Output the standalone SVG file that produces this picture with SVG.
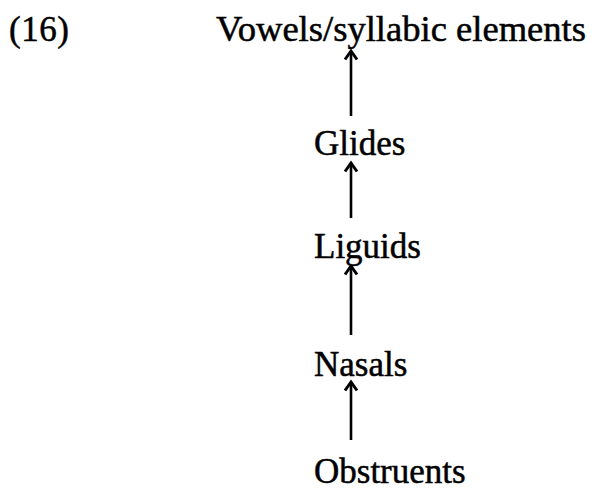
<svg xmlns="http://www.w3.org/2000/svg" width="597" height="492" viewBox="0 0 597 492">
<style>
.t{font-family:"Liberation Serif","Times New Roman",serif;font-size:35px;fill:#000;stroke:#000;stroke-width:0.5}
.c{stroke:#000;stroke-width:2.6;fill:none}
</style>
<defs>
<marker id="ah" viewBox="-2 -2 15 17" refX="9.5" refY="6.5" markerWidth="15" markerHeight="17" markerUnits="userSpaceOnUse" orient="auto">
<path d="M1,0.5 L9.5,6.5 L1,12.5" stroke="#000" stroke-width="3" fill="none" stroke-linejoin="miter"/>
</marker>
</defs>
<rect width="597" height="492" fill="#fff"/>
<g id="label16"><text class="t" x="9" y="41" textLength="60" lengthAdjust="spacing">(16)</text></g>
<g id="vowels"><text class="t" x="216" y="41" textLength="370" lengthAdjust="spacingAndGlyphs">Vowels/syllabic elements</text></g>
<g id="glides"><text class="t" x="314" y="155">Glides</text></g>
<g id="liquids"><text class="t" x="314" y="258">Liguids</text></g>
<g id="nasals"><text class="t" x="314" y="376">Nasals</text></g>
<g id="obstruents"><text class="t" x="314" y="483">Obstruents</text></g>
<g id="connectors">
<line class="c" x1="351" y1="116" x2="351" y2="51" marker-end="url(#ah)"/>
<line class="c" x1="351" y1="218" x2="351" y2="163" marker-end="url(#ah)"/>
<line class="c" x1="351" y1="335" x2="351" y2="266" marker-end="url(#ah)"/>
<line class="c" x1="351" y1="440" x2="351" y2="382" marker-end="url(#ah)"/>
</g>
</svg>
